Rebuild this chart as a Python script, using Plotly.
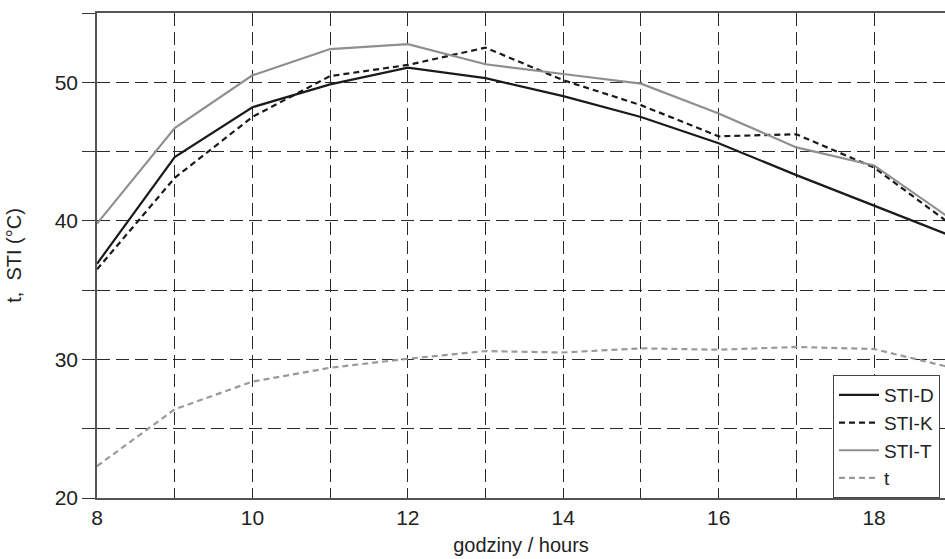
import plotly.graph_objects as go

hours = [8, 9, 10, 11, 12, 13, 14, 15, 16, 17, 18, 19]
sti_d = [36.9, 44.6, 48.2, 49.85, 51.05, 50.3, 49.0, 47.5, 45.6, 43.3, 41.1, 38.9]
sti_k = [36.5, 43.1, 47.5, 50.45, 51.25, 52.5, 50.15, 48.35, 46.1, 46.25, 43.85, 39.7]
sti_t = [39.8, 46.7, 50.5, 52.4, 52.75, 51.3, 50.6, 49.9, 47.75, 45.3, 44.0, 40.1]
t_air = [22.3, 26.4, 28.4, 29.4, 30.05, 30.6, 30.5, 30.8, 30.7, 30.9, 30.75, 29.4]

x_tickvals = list(range(8, 19))
x_ticktext = [str(v) if v % 2 == 0 else "" for v in x_tickvals]
y_tickvals = [20, 25, 30, 35, 40, 45, 50, 55]
y_ticktext = ["20", "", "30", "", "40", "", "50", ""]

FONT = "Liberation Sans Narrow, Arial Narrow, Liberation Sans, Arial, sans-serif"

fig = go.Figure()
fig.add_trace(go.Scatter(x=hours, y=sti_d, name="STI-D", mode="lines",
                         line=dict(color="#1a1a1a", width=2.2)))
fig.add_trace(go.Scatter(x=hours, y=sti_k, name="STI-K", mode="lines",
                         line=dict(color="#1a1a1a", width=2.2, dash="6px,4px")))
fig.add_trace(go.Scatter(x=hours, y=sti_t, name="STI-T", mode="lines",
                         line=dict(color="#8f8f8f", width=2.2)))
fig.add_trace(go.Scatter(x=hours, y=t_air, name="t", mode="lines",
                         line=dict(color="#9a9a9a", width=2.2, dash="6px,4px")))

grid = dict(showgrid=True, gridcolor="#2a2a2a", gridwidth=1.1, griddash="13px,6px")

fig.update_layout(
    width=945, height=559,
    margin=dict(l=97, r=0, t=13, b=61),
    paper_bgcolor="white", plot_bgcolor="white",
    font=dict(family=FONT, size=21, color="#222"),
    showlegend=True,
    legend=dict(x=(833 - 97) / 848, xanchor="left", y=0, yanchor="bottom",
                bgcolor="white", bordercolor="#444", borderwidth=1,
                font=dict(family=FONT, size=19, color="#222"),
                tracegroupgap=0, itemwidth=40),
    xaxis=dict(range=[8, 18.913], tickvals=x_tickvals, ticktext=x_ticktext,
               ticks="", showline=True, linecolor="#555", linewidth=1.5,
               mirror=True, zeroline=False,
               title=dict(text="godziny / hours", font=dict(size=20), standoff=10),
               tickfont=dict(size=21), **grid),
    yaxis=dict(range=[20, 55], tickvals=y_tickvals, ticktext=y_ticktext,
               ticks="outside", ticklen=13, tickcolor="#333", tickwidth=1.3,
               showline=True, linecolor="#555", linewidth=1.5, zeroline=False,
               automargin=False,
               title=dict(text="t, \u00a0STI (°C)", font=dict(size=20), standoff=28),
               tickfont=dict(size=21), **grid),
)

fig.write_html("out.html")
